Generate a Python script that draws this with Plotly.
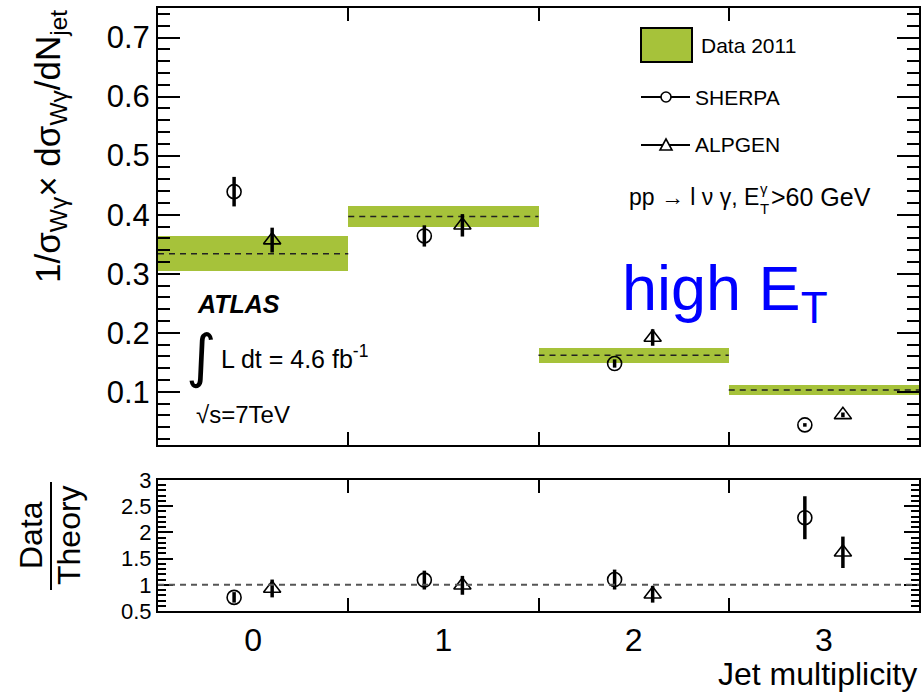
import plotly.graph_objects as go

# ---------------- data ----------------
bins = [0, 1, 2, 3]
bin_labels = ["0", "1", "2", "3"]
data_val = [0.334, 0.397, 0.162, 0.103]
data_err = [0.030, 0.017, 0.013, 0.008]
sherpa_val = [0.439, 0.364, 0.148, 0.044]
sherpa_err = [0.025, 0.018, 0.007, 0.003]
alpgen_val = [0.357, 0.382, 0.192, 0.061]
alpgen_err = [0.021, 0.019, 0.014, 0.004]
ratio_sherpa = [0.76, 1.09, 1.10, 2.28]
ratio_sherpa_err = [0.10, 0.18, 0.19, 0.41]
ratio_alpgen = [0.93, 0.99, 0.82, 1.62]
ratio_alpgen_err = [0.17, 0.18, 0.16, 0.30]

W, H = 923, 695
L, R, T, B = 158, 919, 8, 611
GREEN = "#a6c23a"
FONT = "Liberation Sans, Arial, Helvetica, sans-serif"


def px(x):
    return (x - L) / (R - L)


def py(y):
    return (B - y) / (B - T)


fig = go.Figure()

# data bands
fig.add_trace(go.Bar(x=bins, y=[2 * e for e in data_err],
                     base=[v - e for v, e in zip(data_val, data_err)],
                     width=1.0, marker=dict(color=GREEN, line=dict(width=0)),
                     xaxis="x", yaxis="y", showlegend=False))
dx, dy = [], []
for b, v in zip(bins, data_val):
    dx += [b - 0.5, b + 0.5, None]
    dy += [v, v, None]
fig.add_trace(go.Scatter(x=dx, y=dy, mode="lines",
                         line=dict(color="#222", width=1.5, dash="6px,5px"),
                         xaxis="x", yaxis="y", showlegend=False))

err_style = dict(type="data", thickness=3.5, width=0, color="black")
circ = dict(symbol="circle-open", size=14, color="black", line=dict(width=1.6, color="black"))
tri = dict(symbol="triangle-up-open", size=15, color="black", line=dict(width=1.6, color="black"))

fig.add_trace(go.Scatter(x=[b - 0.1 for b in bins], y=sherpa_val, mode="markers",
                         marker=circ, error_y=dict(array=sherpa_err, **err_style),
                         xaxis="x", yaxis="y", showlegend=False))
fig.add_trace(go.Scatter(x=[b + 0.1 for b in bins], y=alpgen_val, mode="markers",
                         marker=tri, error_y=dict(array=alpgen_err, **err_style),
                         xaxis="x", yaxis="y", showlegend=False))
fig.add_trace(go.Scatter(x=[b - 0.1 for b in bins], y=ratio_sherpa, mode="markers",
                         marker=circ, error_y=dict(array=ratio_sherpa_err, **err_style),
                         xaxis="x2", yaxis="y2", showlegend=False))
fig.add_trace(go.Scatter(x=[b + 0.1 for b in bins], y=ratio_alpgen, mode="markers",
                         marker=tri, error_y=dict(array=ratio_alpgen_err, **err_style),
                         xaxis="x2", yaxis="y2", showlegend=False))

axis_common = dict(showline=True, linecolor="black", linewidth=2, mirror="allticks",
                   showgrid=False, zeroline=False, tickcolor="black", automargin=False)

fig.update_layout(
    width=W, height=H,
    margin=dict(l=L, r=W - R, t=T, b=H - B, autoexpand=False),
    plot_bgcolor="white", paper_bgcolor="white",
    font=dict(family=FONT, color="black"),
    bargap=0,
    xaxis=dict(domain=[0, 1], range=[-0.5, 3.5], anchor="y",
               tickvals=bins, ticks="", showticklabels=False,
               minor=dict(tickvals=[0.5, 1.5, 2.5], ticks="inside", ticklen=13,
                          tickwidth=2, tickcolor="black"),
               **axis_common),
    yaxis=dict(domain=[py(445), 1], range=[0.01, 0.75], anchor="x",
               tick0=0, dtick=0.1, ticks="inside", ticklen=22, tickwidth=2,
               tickfont=dict(size=31, family=FONT),
               minor=dict(dtick=0.02, ticks="inside", ticklen=12, tickwidth=2,
                          tickcolor="black"),
               **axis_common),
    xaxis2=dict(domain=[0, 1], range=[-0.5, 3.5], anchor="y2",
                tickvals=bins, ticktext=bin_labels, ticks="",
                tickfont=dict(size=32, family=FONT),
                minor=dict(tickvals=[0.5, 1.5, 2.5], ticks="inside", ticklen=13,
                           tickwidth=2, tickcolor="black"),
                **axis_common),
    yaxis2=dict(domain=[0, py(480)], range=[0.5, 3.0], anchor="x2",
                tick0=0, dtick=0.5, ticks="inside", ticklen=15, tickwidth=2,
                tickfont=dict(size=22, family=FONT),
                minor=dict(dtick=0.1, ticks="inside", ticklen=8, tickwidth=2,
                           tickcolor="black"),
                **axis_common),
)

shapes = [
    dict(type="line", xref="x2 domain", yref="y2", x0=0, x1=1, y0=1, y1=1,
         line=dict(color="#555", width=2, dash="6px,5px")),
    # legend
    dict(type="rect", xref="paper", yref="paper", x0=px(641), x1=px(692), y0=py(62), y1=py(28),
         fillcolor=GREEN, line=dict(color="black", width=2)),
    dict(type="line", xref="paper", yref="paper", x0=px(641), x1=px(690), y0=py(97), y1=py(97),
         line=dict(color="black", width=2)),
    dict(type="circle", xref="paper", yref="paper", x0=px(661), x1=px(671), y0=py(102), y1=py(92),
         fillcolor="white", line=dict(color="black", width=1.6)),
    dict(type="line", xref="paper", yref="paper", x0=px(641), x1=px(690), y0=py(145), y1=py(145),
         line=dict(color="black", width=2)),
    dict(type="path", xref="paper", yref="paper",
         path=f"M {px(660)},{py(150)} L {px(672)},{py(150)} L {px(666)},{py(139)} Z",
         fillcolor="white", line=dict(color="black", width=1.6)),
    # fraction bar of Data/Theory
    dict(type="line", xref="paper", yref="paper", x0=px(51), x1=px(51), y0=py(590), y1=py(482),
         line=dict(color="black", width=2)),
]
fig.update_layout(shapes=shapes)


def ann(text, x, y, size, xanchor="left", yanchor="middle", angle=0, color="black",
        family=FONT, align="center"):
    fig.add_annotation(text=text, xref="paper", yref="paper", x=px(x), y=py(y),
                       xanchor=xanchor, yanchor=yanchor, showarrow=False, textangle=angle,
                       borderpad=0, align=align,
                       font=dict(size=size, color=color, family=family))


ann("Data 2011", 700, 45, 21)
ann("SHERPA", 694, 97, 21)
ann("ALPGEN", 694, 145, 21)
ann("pp → l ν γ, E", 628, 197, 23)
ann("γ<br>T", 759, 198, 15, align="left")
ann(">60 GeV", 770, 197, 25)
ann("<b><i>ATLAS</i></b>", 196, 304, 25)
ann("∫", 201, 356, 58, xanchor="center", family="DejaVu Sans, sans-serif")
ann("L dt = 4.6 fb<sup>-1</sup>", 220, 357, 25)
ann("√s=7TeV", 195, 415, 24)
ann("high E<sub>T</sub>", 621, 292, 63, color="#0000ff")
ann("1/σ<sub>Wγ</sub>× dσ<sub>Wγ</sub>/dN<sub>jet</sub>", 50, 147, 35,
    xanchor="center", angle=-90)
ann("Data", 31, 535, 32, xanchor="center", angle=-90)
ann("Theory", 69, 535, 32, xanchor="center", angle=-90)
ann("Jet multiplicity", 918, 674, 32, xanchor="right")

fig.write_html("out.html", config={"displayModeBar": False},
               post_script="document.body.style.margin='0';document.body.style.overflow='hidden';")
